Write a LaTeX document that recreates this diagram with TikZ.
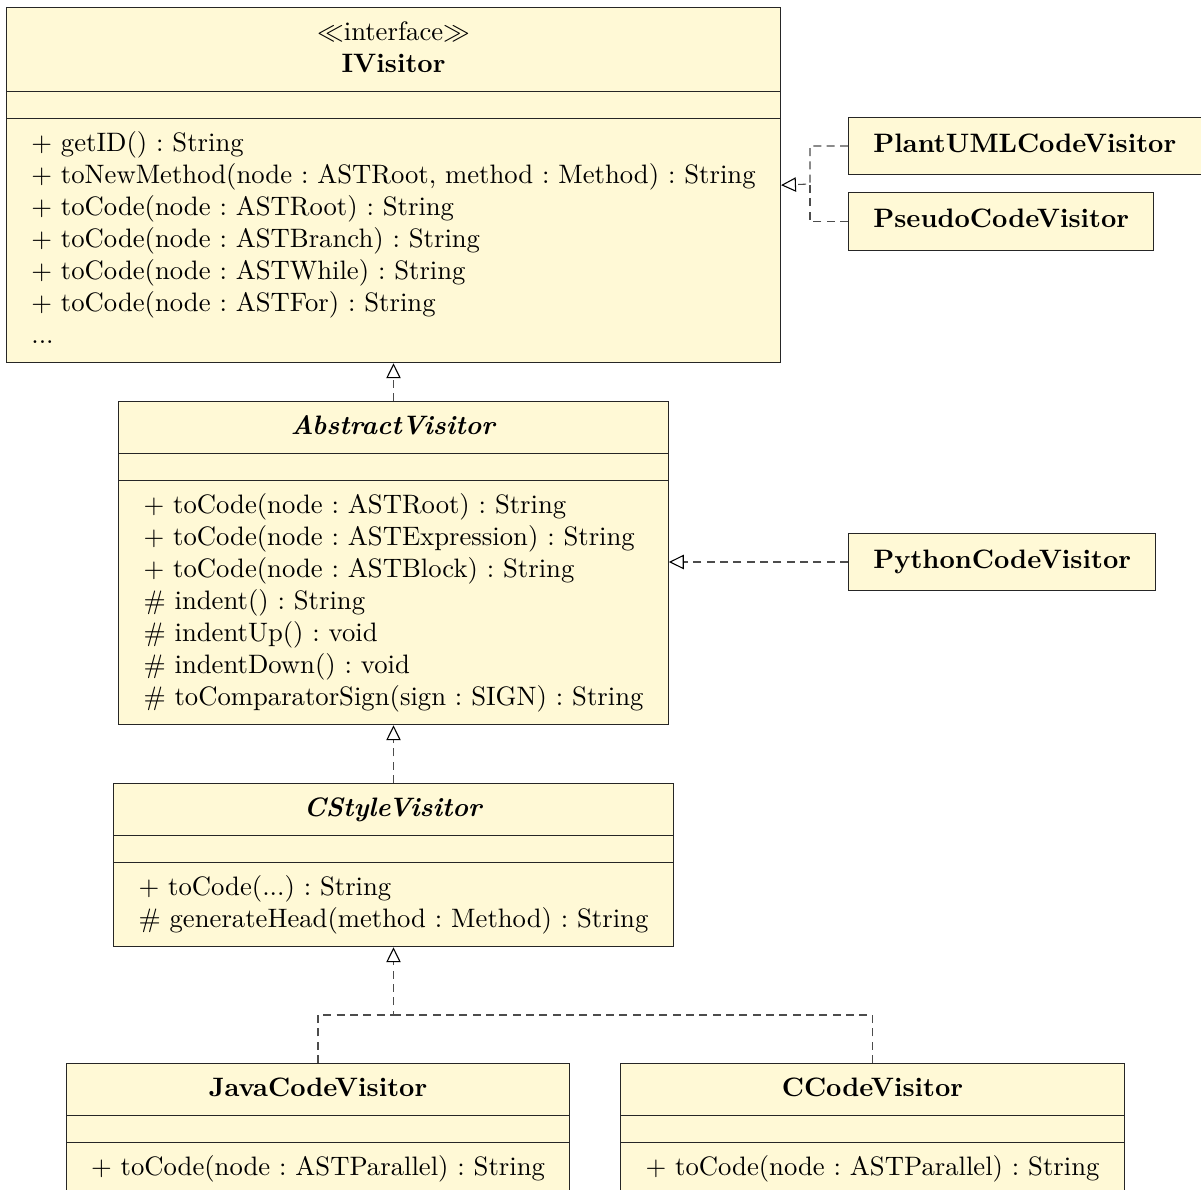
\documentclass[tikz,border=0pt]{standalone}
\usepackage{amsmath}
\usepackage{amssymb}
\usepackage{tikz}
\usetikzlibrary{shapes.multipart,arrows.meta,positioning}

\definecolor{umlfill}{RGB}{255,249,214}
\tikzset{
  umlclass/.style={rectangle split, rectangle split parts=3, draw=black!85, fill=umlfill,
    inner xsep=3.33pt, inner ysep=3.6pt, font=\frenchspacing},
  umlbox/.style={rectangle, draw=black!85, fill=umlfill, inner xsep=3.33pt, inner ysep=3.6pt,
    minimum height=21.6pt},
  implements/.style={draw=black!70, dash pattern=on 3pt off 2pt,
    -{Triangle[open,length=5.6pt,width=5.4pt,color=black]}},
  implline/.style={draw=black!70, dash pattern=on 3pt off 2pt}
}
\newcommand{\emptypart}{\rule{0pt}{2.4pt}}

\begin{document}
\begin{tikzpicture}[x=0.375pt, y=-0.375pt]
  \useasboundingbox (0,0) rectangle (1201,1189);

  \node[umlclass, anchor=north] (ivisitor) at (393.5,7) {\begin{tabular}{c}$\ll$interface$\gg$\\ \textbf{IVisitor}\end{tabular}
    \nodepart{second}\emptypart
    \nodepart{third}\begin{tabular}{l}
      + getID() : String\\
      + toNewMethod(node : ASTRoot, method : Method) : String\\
      + toCode(node : ASTRoot) : String\\
      + toCode(node : ASTBranch) : String\\
      + toCode(node : ASTWhile) : String\\
      + toCode(node : ASTFor) : String\\
      ...
    \end{tabular}};

  \node[umlclass, anchor=north] (abstract) at (393.5,401) {\begin{tabular}{c}\textbf{\textit{AbstractVisitor}}\end{tabular}
    \nodepart{second}\emptypart
    \nodepart{third}\begin{tabular}{l}
      + toCode(node : ASTRoot) : String\\
      + toCode(node : ASTExpression) : String\\
      + toCode(node : ASTBlock) : String\\
      \# indent() : String\\
      \# indentUp() : void\\
      \# indentDown() : void\\
      \# toComparatorSign(sign : SIGN) : String
    \end{tabular}};

  \node[umlclass, anchor=north] (cstyle) at (393.5,783) {\begin{tabular}{c}\textbf{\textit{CStyleVisitor}}\end{tabular}
    \nodepart{second}\emptypart
    \nodepart{third}\begin{tabular}{l}
      + toCode(...) : String\\
      \# generateHead(method : Method) : String
    \end{tabular}};

  \node[umlclass, anchor=north] (java) at (318,1063) {\begin{tabular}{c}\textbf{JavaCodeVisitor}\end{tabular}
    \nodepart{second}\emptypart
    \nodepart{third}\begin{tabular}{l}
      + toCode(node : ASTParallel) : String
    \end{tabular}};

  \node[umlclass, anchor=north] (ccode) at (872.5,1063) {\begin{tabular}{c}\textbf{CCodeVisitor}\end{tabular}
    \nodepart{second}\emptypart
    \nodepart{third}\begin{tabular}{l}
      + toCode(node : ASTParallel) : String
    \end{tabular}};

  \node[umlbox, anchor=west] (plantuml) at (848,146) {\begin{tabular}{c}\textbf{PlantUMLCodeVisitor}\end{tabular}};
  \node[umlbox, anchor=west] (pseudo) at (848,221.5) {\begin{tabular}{c}\textbf{PseudoCodeVisitor}\end{tabular}};
  \node[umlbox, anchor=west] (python) at (848,562) {\begin{tabular}{c}\textbf{PythonCodeVisitor}\end{tabular}};

  \coordinate (ijoin) at (810,184);
  \coordinate (cjoin) at (393.5,1015);

  \draw[implements] (plantuml.west) -| (ijoin) -- (ivisitor.east);
  \draw[implline] (pseudo.west) -| (ijoin);
  \draw[implements] (abstract.north) -- (ivisitor.south);
  \draw[implements] (python.west) -- (python.west -| abstract.east);
  \draw[implements] (cstyle.north) -- (abstract.south);
  \draw[implements] (java.north) |- (cjoin) -- (cstyle.south);
  \draw[implline] (ccode.north) |- (cjoin);
\end{tikzpicture}
\end{document}
